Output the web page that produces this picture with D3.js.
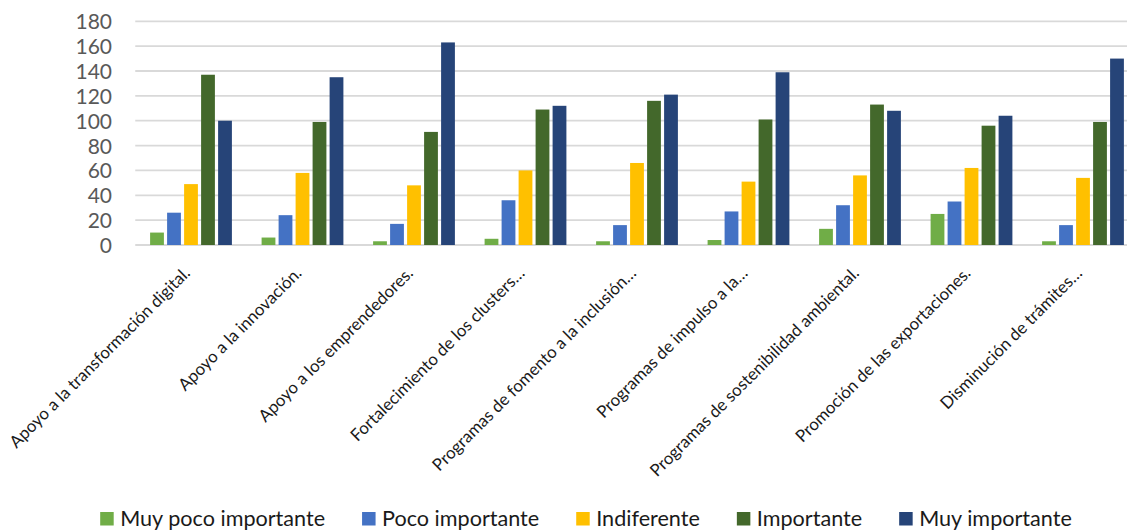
<!DOCTYPE html>
<html><head><meta charset="utf-8">
<script src="https://cdn.jsdelivr.net/npm/d3@7"></script>
<style>
html,body{margin:0;padding:0;background:#fff;overflow:hidden;}
svg{display:block;font-family:Lato,"Open Sans",sans-serif;}
</style></head>
<body><svg id="c" width="1127" height="531"></svg>
<script>
const categories = [
  "Apoyo a la transformación digital.",
  "Apoyo a la innovación.",
  "Apoyo a los emprendedores.",
  "Fortalecimiento de los clusters…",
  "Programas de fomento a la inclusión…",
  "Programas de impulso a la…",
  "Programas de sostenibilidad ambiental.",
  "Promoción de las exportaciones.",
  "Disminución de trámites…"
];
const seriesNames = ["Muy poco importante","Poco importante","Indiferente","Importante","Muy importante"];
const seriesColors = ["#70AD47","#4472C4","#FFC000","#43682B","#264478"];
const muyPoco     = [10, 6, 3, 5, 3, 4, 13, 25, 3];
const poco        = [26, 24, 17, 36, 16, 27, 32, 35, 16];
const indiferente = [49, 58, 48, 60, 66, 51, 56, 62, 54];
const importante  = [137, 99, 91, 109, 116, 101, 113, 96, 99];
const muyImp      = [100, 135, 163, 112, 121, 139, 108, 104, 150];
const yTicks = [0,20,40,60,80,100,120,140,160,180];

(function(){
const seriesValues = [muyPoco, poco, indiferente, importante, muyImp];
const svg = d3.select("#c");

const pLeft = 135.25, pRight = 1138.75, pTop = 21.3, pBottom = 245;
const x0 = d3.scaleBand().domain(categories).range([pLeft, pRight]).padding(0);
const groupW = 85;
const x1 = d3.scaleBand().domain(seriesNames)
  .range([(x0.bandwidth()-groupW)/2, (x0.bandwidth()+groupW)/2]).padding(0);
const y = d3.scaleLinear().domain([0,180]).range([pBottom, pTop]);

// gridlines
svg.append("g").selectAll("line").data(yTicks).join("line")
  .attr("x1", pLeft).attr("x2", pRight)
  .attr("y1", d=>y(d)).attr("y2", d=>y(d))
  .attr("stroke", "#D9D9D9").attr("stroke-width", 1.8);

// y axis labels
const yAxis = d3.axisLeft(y).tickValues(yTicks).tickSize(0).tickPadding(0);
const ga = svg.append("g").attr("transform", `translate(112,0)`).call(yAxis);
ga.select(".domain").remove();
ga.selectAll("text").attr("font-size", 21).attr("fill", "#595959")
  .attr("font-family", "Lato").attr("dy", "0.36em");

// bars
const barW = 13.8;
const off = (x1.bandwidth()-barW)/2;
seriesNames.forEach((s, si) => {
  svg.append("g").selectAll("rect").data(seriesValues[si]).join("rect")
    .attr("x", (d,i)=>x0(categories[i]) + x1(s) + off)
    .attr("width", barW)
    .attr("y", d=>y(d))
    .attr("height", d=>y(0)-y(d))
    .attr("fill", seriesColors[si]);
});

// category labels
svg.append("g").selectAll("text").data(categories).join("text")
  .attr("transform", d=>`translate(${x0(d)+x0.bandwidth()/2-4},270) rotate(-45)`)
  .attr("text-anchor", "end")
  .attr("dy", "0.35em")
  .attr("font-size", 16.9)
  .attr("fill", "#1a1a1a")
  .text(d=>d);

// legend
const lg = svg.append("g");
const fs = 21.6;
let items = [];
let xcur = 0;
seriesNames.forEach((s, i) => {
  const g = lg.append("g");
  g.append("rect").attr("x", 0).attr("y", -14).attr("width", 13.5).attr("height", 13.5).attr("fill", seriesColors[i]);
  const t = g.append("text").attr("x", 20).attr("y", 0).attr("font-size", fs).attr("fill", "#1a1a1a").text(s);
  const w = t.node().getComputedTextLength();
  items.push({g, x: xcur});
  xcur += 20 + w + 37;
});
const total = xcur - 37;
const startX = 586 - total/2;
items.forEach(it => it.g.attr("transform", `translate(${startX + it.x},526)`));
})();
</script></body></html>
